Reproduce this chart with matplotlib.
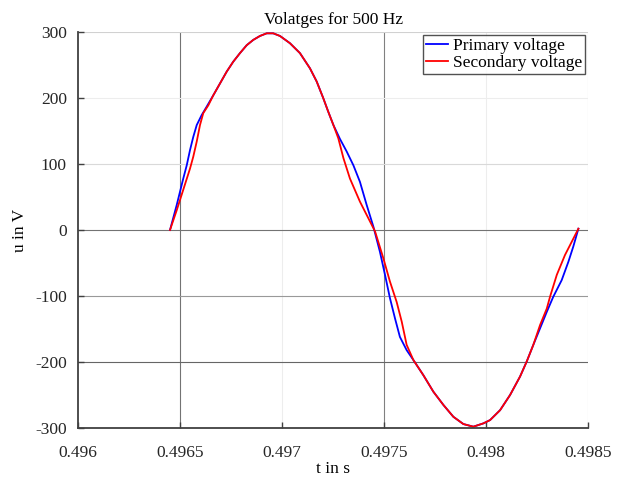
import numpy as np
import matplotlib
matplotlib.use("Agg")
import matplotlib.pyplot as plt

# Primary voltage (blue): time in s, value in V
t_primary = [0.496451, 0.496484, 0.496516, 0.496533, 0.496549, 0.496565, 0.496582, 0.496606,
             0.496631, 0.496663, 0.496696, 0.496729, 0.496761, 0.496794, 0.496827, 0.496859,
             0.496892, 0.496925, 0.496957, 0.496990, 0.497039, 0.497088, 0.497137, 0.497170,
             0.497202, 0.497227, 0.497252, 0.497284, 0.497317, 0.497350, 0.497382, 0.497415,
             0.497448, 0.497480, 0.497505, 0.497529, 0.497554, 0.497578, 0.497611, 0.497644,
             0.497693, 0.497742, 0.497791, 0.497840, 0.497889, 0.497938, 0.497987, 0.498020,
             0.498069, 0.498118, 0.498167, 0.498200, 0.498232, 0.498265, 0.498298, 0.498330,
             0.498371, 0.498404, 0.498428, 0.498453]
u_primary = [0, 38, 78, 98, 121, 141, 159, 174,
             187, 204, 222, 240, 255, 268, 280, 288,
             294, 298, 298, 294, 283, 268, 245, 225,
             200, 179, 159, 138, 119, 98, 73, 38,
             5, -33, -68, -103, -134, -162, -182, -197,
             -220, -245, -265, -283, -294, -298, -293, -288,
             -273, -250, -222, -199, -174, -149, -124, -101,
             -76, -48, -25, 2]

# Secondary voltage (red)
t_secondary = [0.496451, 0.496484, 0.496516, 0.496549, 0.496565, 0.496582, 0.496598, 0.496614,
               0.496639, 0.496663, 0.496696, 0.496729, 0.496761, 0.496794, 0.496827, 0.496859,
               0.496892, 0.496925, 0.496957, 0.496990, 0.497039, 0.497088, 0.497137, 0.497170,
               0.497202, 0.497227, 0.497252, 0.497276, 0.497301, 0.497333, 0.497382, 0.497423,
               0.497456, 0.497497, 0.497529, 0.497562, 0.497587, 0.497611, 0.497644,
               0.497693, 0.497742, 0.497791, 0.497840, 0.497889, 0.497938, 0.497987, 0.498020,
               0.498069, 0.498118, 0.498167, 0.498200, 0.498232, 0.498265, 0.498298, 0.498314,
               0.498347, 0.498387, 0.498420, 0.498453]
u_secondary = [0, 30, 61, 93, 111, 134, 159, 177,
               189, 204, 222, 240, 255, 268, 280, 288,
               294, 298, 298, 294, 283, 268, 245, 225,
               200, 179, 159, 139, 109, 78, 43, 18,
               -2, -43, -78, -109, -139, -174, -197,
               -220, -245, -265, -283, -294, -298, -293, -288,
               -273, -250, -222, -199, -174, -144, -119, -101,
               -68, -38, -18, 2]

xticks = [0.496, 0.4965, 0.497, 0.4975, 0.498, 0.4985]
xticklabels = ["0.496", "0.4965", "0.497", "0.4975", "0.498", "0.4985"]
yticks = [-300, -200, -100, 0, 100, 200, 300]

plt.rcParams['font.family'] = ['Liberation Serif', 'DejaVu Serif']
fig = plt.figure(figsize=(6.19, 4.79), dpi=100)
ax = fig.add_axes([78/619, 1-428/479, 510/619, 396/479])

# grid lines (MATLAB-like uneven rendering)
xgrid_col = {0.4965: '0.45', 0.497: '0.93', 0.4975: '0.5', 0.498: '0.93', 0.4985: '0.85'}
for xv, c in xgrid_col.items():
    ax.axvline(xv, color=c, lw=0.8, zorder=0)
ygrid_col = {300: '0.82', 200: '0.93', 100: '0.85', 0: '0.45', -100: '0.6', -200: '0.4'}
for yv, c in ygrid_col.items():
    ax.axhline(yv, color=c, lw=0.8, zorder=0)

ax.plot(t_primary, u_primary, color='#0000ff', lw=1.3, label='Primary voltage')
ax.plot(t_secondary, u_secondary, color='#ff0000', lw=1.3, label='Secondary voltage')

ax.set_xlim(0.496, 0.4985)
ax.set_ylim(-300, 300)
ax.set_xticks(xticks)
ax.set_xticklabels(xticklabels)
ax.set_yticks(yticks)
ax.set_yticklabels([str(v) for v in yticks])
ax.tick_params(direction='in', length=4, width=1, colors='0.25', labelsize=12.5,
               labelcolor='0.15')
ax.tick_params(axis='x', pad=12)
ax.tick_params(axis='y', pad=8)
for s in ['top', 'right']:
    ax.spines[s].set_visible(False)
for s in ['left', 'bottom']:
    ax.spines[s].set_color('0.25')
    ax.spines[s].set_linewidth(1.3)

ax.set_title('Volatges for 500 Hz', fontsize=12.5, pad=6)
ax.set_xlabel('t in s', fontsize=12.5, labelpad=0)
ax.set_ylabel('u in V', fontsize=12.5, labelpad=5)

leg = ax.legend(loc='upper right', fontsize=12.5, frameon=True, fancybox=False,
                edgecolor='0.15', borderpad=0.15, labelspacing=0.05,
                handlelength=1.3, handletextpad=0.25, borderaxespad=0.2)
leg.get_frame().set_linewidth(1.0)

fig.savefig('out.png', dpi=100)
